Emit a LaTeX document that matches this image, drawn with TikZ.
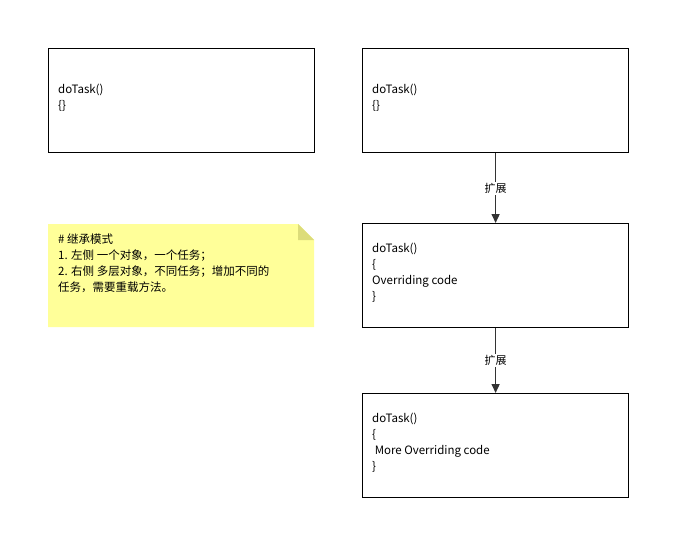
\documentclass[tikz,border=0pt]{standalone}
\usepackage{fontspec}
\setmainfont{Noto Sans CJK SC}
\usetikzlibrary{arrows.meta}
\definecolor{notefill}{HTML}{FFFF99}
\definecolor{foldfill}{HTML}{DCDC7A}
\begin{document}
\begin{tikzpicture}[x=1pt,y=-1pt,
  box/.style={draw=black,line width=1.2pt,fill=white},
  txt/.style={anchor=north west,align=left,font=\fontsize{11.5}{16}\selectfont,inner sep=0pt},
  conn/.style={draw=black!80,line width=1.5pt,-{Triangle[length=9pt,width=8pt]}},
  lbl/.style={fill=white,font=\fontsize{11}{12}\selectfont,inner sep=1.5pt}]
\useasboundingbox[fill=white] (0,0) rectangle (690,559);
\node[box,minimum width=266pt,minimum height=104pt,anchor=north west] (l) at (48,48) {};
\node[txt] at (58,84) {doTask()\\\{\}};
\node[box,minimum width=266pt,minimum height=104pt,anchor=north west] (r1) at (362,48) {};
\node[txt] at (372,84) {doTask()\\\{\}};
\node[box,minimum width=266pt,minimum height=104pt,anchor=north west] (r2) at (362,223) {};
\node[txt] at (372,243) {doTask()\\\{\\Overriding code\\\}};
\node[box,minimum width=266pt,minimum height=104pt,anchor=north west] (r3) at (362,393) {};
\node[txt] at (372,413) {doTask()\\\{\\\ More Overriding code\\\}};
\fill[notefill] (48,224) -- (298,224) -- (314,240) -- (314,327) -- (48,327) -- cycle;
\fill[foldfill] (298,224) -- (314,240) -- (298,240) -- cycle;
\node[txt] (note) at (58,234) {\# 继承模式\\1. 左侧 一个对象，一个任务；\\2. 右侧 多层对象，不同任务；增加不同的\\任务，需要重载方法。};
\draw[conn] (r1.south) -- node[lbl]{扩展} (r2.north);
\draw[conn] (r2.south) -- node[lbl]{扩展} (r3.north);
\end{tikzpicture}
\end{document}
